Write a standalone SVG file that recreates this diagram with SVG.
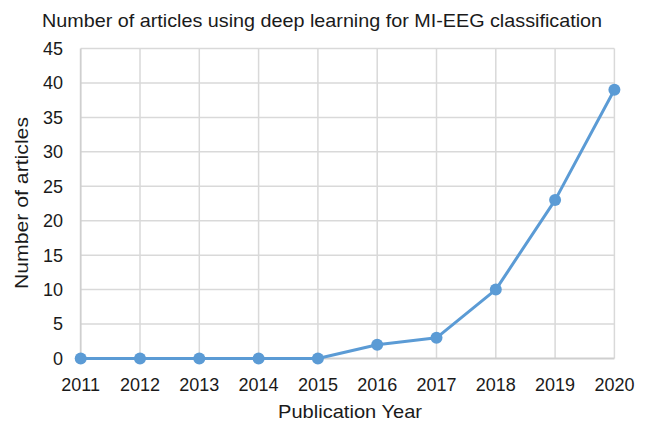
<svg xmlns="http://www.w3.org/2000/svg" width="648" height="424" viewBox="0 0 648 424">
<style>
text{font-family:"Liberation Sans",Arial,sans-serif;fill:#1a1a1a}
.grid{stroke:#d9d9d9;stroke-width:1.5;fill:none}
.axis{stroke:#cfcfcf;stroke-width:1.8;fill:none}
.tick{font-size:18px}
.yt{text-anchor:end}
.xt{text-anchor:middle}
.series{stroke:#5b9bd5;stroke-width:3;fill:none;stroke-linejoin:round}
.pt{fill:#5b9bd5}
</style>
<rect width="648" height="424" fill="#fff"/>
<text id="title" x="42" y="27" font-size="18.5" textLength="560" lengthAdjust="spacingAndGlyphs">Number of articles using deep learning for MI-EEG classification</text>
<g id="grid">
<path class="grid" d="M80.7 48.5H614.4M80.7 82.9H614.4M80.7 117.4H614.4M80.7 151.8H614.4M80.7 186.3H614.4M80.7 220.7H614.4M80.7 255.2H614.4M80.7 289.6H614.4M80.7 324.1H614.4"/>
<path class="grid" d="M140 48.5V358.5M199.3 48.5V358.5M258.6 48.5V358.5M317.9 48.5V358.5M377.2 48.5V358.5M436.5 48.5V358.5M495.8 48.5V358.5M555.1 48.5V358.5M614.4 48.5V358.5"/>
<path class="axis" d="M80.7 48.5V358.5H614.4"/>
</g>
<g id="y-ticks">
<text class="tick yt" x="63" y="364.8">0</text>
<text class="tick yt" x="63" y="330.4">5</text>
<text class="tick yt" x="63" y="295.9">10</text>
<text class="tick yt" x="63" y="261.5">15</text>
<text class="tick yt" x="63" y="227">20</text>
<text class="tick yt" x="63" y="192.6">25</text>
<text class="tick yt" x="63" y="158.1">30</text>
<text class="tick yt" x="63" y="123.7">35</text>
<text class="tick yt" x="63" y="89.2">40</text>
<text class="tick yt" x="63" y="54.8">45</text>
</g>
<g id="x-ticks">
<text class="tick xt" x="80.7" y="390.5">2011</text>
<text class="tick xt" x="140" y="390.5">2012</text>
<text class="tick xt" x="199.3" y="390.5">2013</text>
<text class="tick xt" x="258.6" y="390.5">2014</text>
<text class="tick xt" x="317.9" y="390.5">2015</text>
<text class="tick xt" x="377.2" y="390.5">2016</text>
<text class="tick xt" x="436.5" y="390.5">2017</text>
<text class="tick xt" x="495.8" y="390.5">2018</text>
<text class="tick xt" x="555.1" y="390.5">2019</text>
<text class="tick xt" x="614.4" y="390.5">2020</text>
</g>
<text id="x-title" x="350" y="418" font-size="19" text-anchor="middle" textLength="144" lengthAdjust="spacingAndGlyphs">Publication Year</text>
<text id="y-title" transform="translate(28 203) rotate(-90)" font-size="19" text-anchor="middle" textLength="172" lengthAdjust="spacingAndGlyphs">Number of articles</text>
<g id="connectors">
<polyline class="series" points="80.7,358.5 140,358.5 199.3,358.5 258.6,358.5 317.9,358.5 377.2,344.7 436.5,337.8 495.8,289.6 555.1,200.1 614.4,89.8"/>
</g>
<g id="points">
<circle id="p2011" class="pt" cx="80.7" cy="358.5" r="6"/>
<circle id="p2012" class="pt" cx="140" cy="358.5" r="6"/>
<circle id="p2013" class="pt" cx="199.3" cy="358.5" r="6"/>
<circle id="p2014" class="pt" cx="258.6" cy="358.5" r="6"/>
<circle id="p2015" class="pt" cx="317.9" cy="358.5" r="6"/>
<circle id="p2016" class="pt" cx="377.2" cy="344.7" r="6"/>
<circle id="p2017" class="pt" cx="436.5" cy="337.8" r="6"/>
<circle id="p2018" class="pt" cx="495.8" cy="289.6" r="6"/>
<circle id="p2019" class="pt" cx="555.1" cy="200.1" r="6"/>
<circle id="p2020" class="pt" cx="614.4" cy="89.8" r="6"/>
</g>
</svg>
